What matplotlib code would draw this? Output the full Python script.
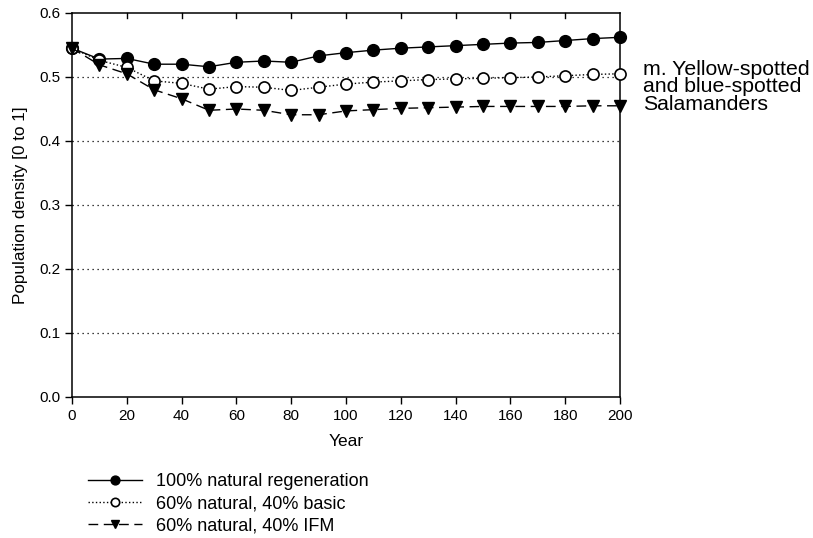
import matplotlib.pyplot as plt
import numpy as np

plt.rcParams['font.family'] = ['Liberation Sans', 'DejaVu Sans']

years = np.arange(0, 201, 10)
natural_100 = [0.545, 0.528, 0.529, 0.520, 0.520, 0.516, 0.523, 0.525, 0.523, 0.533,
               0.538, 0.542, 0.545, 0.547, 0.549, 0.551, 0.553, 0.554, 0.557, 0.560, 0.562]
basic_40 = [0.545, 0.526, 0.515, 0.494, 0.490, 0.481, 0.485, 0.484, 0.479, 0.484,
            0.489, 0.492, 0.494, 0.496, 0.497, 0.498, 0.499, 0.500, 0.502, 0.504, 0.505]
ifm_40 = [0.545, 0.519, 0.505, 0.480, 0.466, 0.448, 0.450, 0.448, 0.441, 0.441,
          0.447, 0.449, 0.451, 0.452, 0.453, 0.454, 0.454, 0.454, 0.454, 0.455, 0.455]
labels = ["100% natural regeneration", "60% natural, 40% basic", "60% natural, 40% IFM"]

fig = plt.figure(figsize=(8.13, 5.38), dpi=100)
ax = fig.add_axes([72 / 813, 1 - 397 / 538, 548 / 813, 384 / 538])

for y in [0.1, 0.2, 0.3, 0.4, 0.5]:
    ax.axhline(y, color="black", lw=0.9, ls=(0, (1, 3)), zorder=0)

ax.plot(years, natural_100, "-", color="black", lw=1.0, marker="o", ms=8.5,
        mfc="black", mec="black", label=labels[0], clip_on=False, zorder=3)
ax.plot(years, basic_40, ":", color="black", lw=1.0, marker="o", ms=8,
        mfc="white", mec="black", mew=1.2, label=labels[1], clip_on=False, zorder=3)
ax.plot(years, ifm_40, color="black", lw=1.0, ls=(0, (7, 4)), marker="v", ms=8.5,
        mfc="black", mec="black", label=labels[2], clip_on=False, zorder=3)

ax.set_xlim(0, 200)
ax.set_ylim(0, 0.6)
ax.set_xticks(np.arange(0, 201, 20))
ax.set_yticks(np.arange(0, 0.61, 0.1))
ax.set_yticklabels([f"{v:.1f}" for v in np.arange(0, 0.61, 0.1)])
ax.tick_params(axis="both", direction="out", length=5, width=1, labelsize=11)
for s in ax.spines.values():
    s.set_linewidth(1.1)

# short inward ticks along the top spine
for xv in np.arange(20, 200, 20):
    ax.plot([xv, xv], [0.6, 0.6 - 0.6 * 5 / 384], color="black", lw=1, clip_on=False)

ax.set_xlabel("Year", fontsize=12.5, labelpad=8)
ax.set_ylabel("Population density [0 to 1]", fontsize=12.3, labelpad=8)

fig.text(643 / 813, 1 - 87 / 538, "m. Yellow-spotted\nand blue-spotted\nSalamanders",
         fontsize=15.3, va="center", ha="left", linespacing=0.92)

fig.legend(loc="upper left", bbox_to_anchor=(88 / 813, 1 - 473 / 538), frameon=False,
           fontsize=13, handlelength=3.0, labelspacing=0.28, handletextpad=0.75,
           borderpad=0, borderaxespad=0, markerscale=0.75)

fig.savefig("out.png", dpi=100)
plt.close(fig)
